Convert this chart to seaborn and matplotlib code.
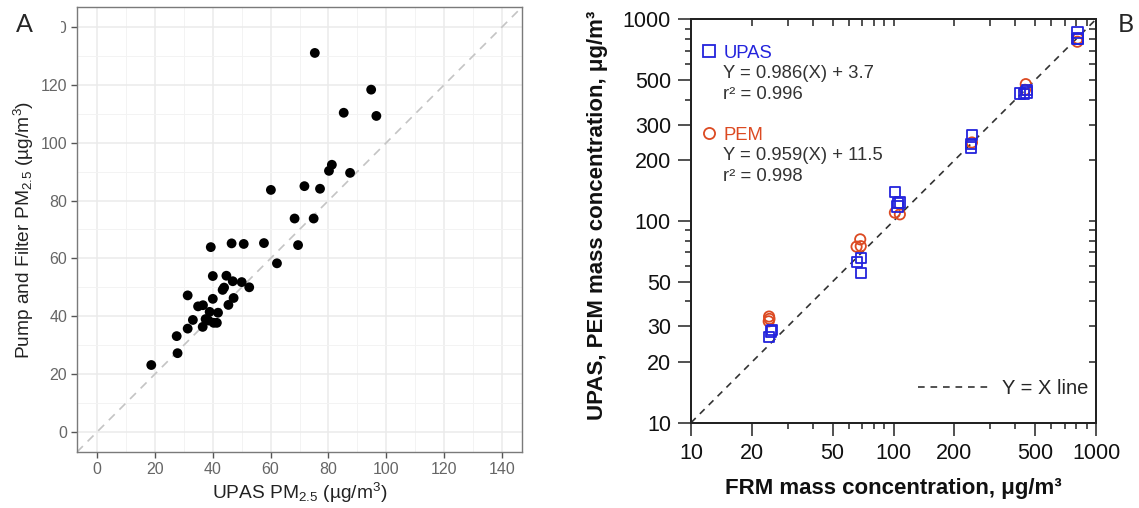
import numpy as np
import pandas as pd
import seaborn as sns
import matplotlib.pyplot as plt
from matplotlib.lines import Line2D
from matplotlib.patches import Rectangle
from matplotlib.ticker import FixedLocator, FixedFormatter, NullLocator, NullFormatter

# ---- panel A data (UPAS vs pump and filter) ----
upas_a = [75.3, 94.8, 85.3, 96.6, 81.2, 80.2, 87.5, 60.1, 71.7, 77.1, 68.3, 74.9, 69.5, 57.7,
          50.7, 46.5, 39.3, 62.2, 40.0, 44.7, 46.9, 50.0, 52.6, 43.9, 43.4, 31.3, 40.0, 47.2,
          45.4, 34.9, 36.6, 38.9, 41.8, 33.1, 37.5, 38.5, 40.3, 41.4, 31.3, 36.5, 27.5, 27.8, 18.7]
pump_a = [131.1, 118.4, 110.4, 109.3, 92.4, 90.3, 89.6, 83.7, 85.0, 84.1, 73.8, 73.8, 64.6, 65.3,
          65.0, 65.2, 63.9, 58.3, 53.9, 54.0, 52.1, 51.8, 50.0, 49.9, 49.1, 47.2, 46.0, 46.3,
          43.9, 43.4, 43.8, 41.5, 41.2, 38.7, 39.0, 38.5, 37.7, 37.7, 35.7, 36.3, 33.1, 27.2, 23.1]
ticks_a = [0, 20, 40, 60, 80, 100, 120, 140]
minor_a = [10, 30, 50, 70, 90, 110, 130]

# ---- panel B data (FRM vs UPAS / PEM) ----
frm_upas = [24.2, 24.9, 25.2, 66.1, 68.9, 68.9, 102, 105.5, 107.5, 104.5, 244, 242, 242,
            420, 441, 458, 454, 809, 809, 815]
upas_b = [26.5, 28.3, 28.9, 62.4, 65.6, 55.3, 139.7, 122.5, 123.5, 118, 266.7, 240, 231.7,
          428, 426, 445, 434, 859, 797, 803]
frm_pem = [24.3, 24.2, 24.4, 68.5, 65.7, 68.9, 101.6, 107.5, 244, 450, 446, 809, 813]
pem_b = [33.6, 31.8, 32.7, 81.1, 74.6, 75.0, 110, 107.9, 245, 477, 447, 774, 803]
one_to_one = [10, 1000]
xticks_b = [10, 20, 50, 100, 200, 500, 1000]
xminor_b = [30, 40, 60, 70, 80, 90, 300, 400, 600, 700, 800, 900]
yticks_b = [10, 20, 30, 50, 100, 200, 300, 500, 1000]
yminor_b = [40, 60, 70, 80, 90, 400, 600, 700, 800, 900]
upas_lab = ["UPAS", "Y = 0.986(X) + 3.7", "r\u00b2 = 0.996"]
pem_lab = ["PEM", "Y = 0.959(X) + 11.5", "r\u00b2 = 0.998"]

blue = "#2323DC"
red = "#DC4A22"

sns.set_theme(style="white")
plt.rcParams['font.family'] = ['Liberation Sans', 'DejaVu Sans']
plt.rcParams['mathtext.default'] = 'regular'

W, H = 1139, 508
fig = plt.figure(figsize=(W / 100, H / 100), dpi=100)
axA = fig.add_axes([77 / W, (H - 452) / H, 445 / W, 445 / H])
axB = fig.add_axes([691 / W, (H - 422.7) / H, 405 / W, 403.4 / H])

#################################################################################
# Panel A
dfA = pd.DataFrame({'upas': upas_a, 'pump': pump_a})
axA.axline((0, 0), slope=1, color='#C4C4C4', lw=1.2, ls=(0, (5, 4)), zorder=2)
sns.scatterplot(data=dfA, x='upas', y='pump', ax=axA, color='black', s=50,
                edgecolor='none', zorder=3)
axA.set_xlim(-7, 147)
axA.set_ylim(-7, 147)
axA.xaxis.set_major_locator(FixedLocator(ticks_a))
axA.yaxis.set_major_locator(FixedLocator(ticks_a))
axA.xaxis.set_minor_locator(FixedLocator(minor_a))
axA.yaxis.set_minor_locator(FixedLocator(minor_a))
axA.grid(which='major', color='#EBEBEB', lw=1.1)
axA.grid(which='minor', color='#F3F3F3', lw=0.7)
axA.set_axisbelow(True)
for sp in axA.spines.values():
    sp.set_color('#7A7A7A')
    sp.set_linewidth(1.0)
axA.tick_params(which='major', length=4, width=1, color='#555555', labelcolor='#666666',
                labelsize=11.5, pad=3, left=True, bottom=True)
axA.tick_params(which='minor', length=0)
axA.set_xlabel('UPAS PM$_{2.5}$ (\u00b5g/m$^3$)', fontsize=13.8, color='#222222')
axA.set_ylabel('Pump and Filter PM$_{2.5}$ (\u00b5g/m$^3$)', fontsize=13.8, color='#222222')
axA.xaxis.set_label_coords(0.5, -0.092)
axA.yaxis.set_label_coords(-0.12, 0.5)
axA.xaxis.label.set_va('center')
axA.yaxis.label.set_va('center')

#################################################################################
# Panel B
dfU = pd.DataFrame({'frm': frm_upas, 'val': upas_b})
dfP = pd.DataFrame({'frm': frm_pem, 'val': pem_b})
axB.set_xscale('log')
axB.set_yscale('log')
sns.lineplot(x=one_to_one, y=one_to_one, ax=axB, color='#333333', lw=1.2,
             linestyle=(0, (4, 3.5)), zorder=2)
ref_line = axB.lines[-1]
sns.scatterplot(data=dfP, x='frm', y='val', ax=axB, marker='o', s=55,
                edgecolor=red, linewidth=1.3, zorder=3)
axB.collections[-1].set_facecolor('none')
sns.scatterplot(data=dfU, x='frm', y='val', ax=axB, marker='s', s=55,
                edgecolor=blue, linewidth=1.3, zorder=4)
axB.collections[-1].set_facecolor('none')
axB.set_xlim(10, 1000)
axB.set_ylim(10, 1000)

axB.xaxis.set_major_locator(FixedLocator(xticks_b))
axB.xaxis.set_major_formatter(FixedFormatter([str(t) for t in xticks_b]))
axB.xaxis.set_minor_locator(FixedLocator(xminor_b))
axB.xaxis.set_minor_formatter(NullFormatter())
axB.yaxis.set_major_locator(FixedLocator(yticks_b))
axB.yaxis.set_major_formatter(FixedFormatter([str(t) for t in yticks_b]))
axB.yaxis.set_minor_locator(FixedLocator(yminor_b))
axB.yaxis.set_minor_formatter(NullFormatter())
axB.tick_params(which='major', direction='out', length=9.4, width=1.1, color='#222222',
                labelsize=15.5, labelcolor='#111111', pad=5, left=True, bottom=True)
axB.tick_params(which='minor', direction='out', length=4.5, width=1.1, color='#222222',
                left=True, bottom=True)
for sp in axB.spines.values():
    sp.set_color('#222222')
    sp.set_linewidth(1.2)

# inward ticks on top and right
axT = axB.twiny()
axT.set_xscale('log')
axT.set_xlim(10, 1000)
axT.xaxis.set_major_locator(FixedLocator(xticks_b + xminor_b))
axT.xaxis.set_minor_locator(NullLocator())
axT.tick_params(axis='x', direction='in', length=5, width=1.1, color='#222222',
                top=True, labeltop=False)
axR = axB.twinx()
axR.set_yscale('log')
axR.set_ylim(10, 1000)
axR.yaxis.set_major_locator(FixedLocator(yticks_b + yminor_b))
axR.yaxis.set_minor_locator(NullLocator())
axR.tick_params(axis='y', direction='in', length=5, width=1.1, color='#222222',
                right=True, labelright=False)
for a in (axT, axR):
    for sp in a.spines.values():
        sp.set_color('#222222')
        sp.set_linewidth(1.2)

axB.set_xlabel('FRM mass concentration, \u03bcg/m\u00b3', fontsize=16, fontweight='bold',
               color='#111111')
axB.set_ylabel('UPAS, PEM mass concentration, \u03bcg/m\u00b3', fontsize=16,
               fontweight='bold', color='#111111')
axB.xaxis.set_label_coords(0.5, -0.164)
axB.yaxis.set_label_coords(-0.232, 0.515)
axB.xaxis.label.set_va('center')
axB.yaxis.label.set_va('center')

# legend with equations
sq = Line2D([], [], marker='s', ls='none', mfc='none', mec=blue, ms=8, mew=1.3)
ci = Line2D([], [], marker='o', ls='none', mfc='none', mec=red, ms=8, mew=1.3)
blank = Line2D([], [], ls='none')
handles = [sq, blank, blank, blank, ci, blank, blank]
labels = upas_lab + [" "] + pem_lab
leg = axR.legend(handles, labels, loc='upper left', bbox_to_anchor=(0.027, 0.937),
                 frameon=False, fontsize=13.3, handlelength=0.8, handletextpad=0.35,
                 labelspacing=0.19, borderaxespad=0, borderpad=0)
for t in leg.get_texts():
    t.set_color('#333333')
leg.get_texts()[0].set_color(blue)
leg.get_texts()[4].set_color(red)
axR.add_artist(leg)
axR.legend([ref_line], ["Y = X line"], loc='lower right', bbox_to_anchor=(0.98, 0.062),
           frameon=False, fontsize=14.5, handlelength=3.6, handletextpad=0.55,
           borderaxespad=0, borderpad=0)

#################################################################################
# panel letters (A sits on a white patch, as in the composite figure)
fig.add_artist(Rectangle((0, 1 - 45 / H), 60.5 / W, 45 / H, transform=fig.transFigure,
                         facecolor='white', edgecolor='none', zorder=5))
fig.text(24 / W, 1 - 25 / H, 'A', fontsize=18, ha='center', va='center',
         family=['Lato', 'DejaVu Sans'], zorder=6)
fig.text(1126 / W, 1 - 24 / H, 'B', fontsize=18, ha='center', va='center',
         family=['Lato', 'DejaVu Sans'], zorder=6)

fig.savefig('out.png', dpi=100, facecolor='white')
